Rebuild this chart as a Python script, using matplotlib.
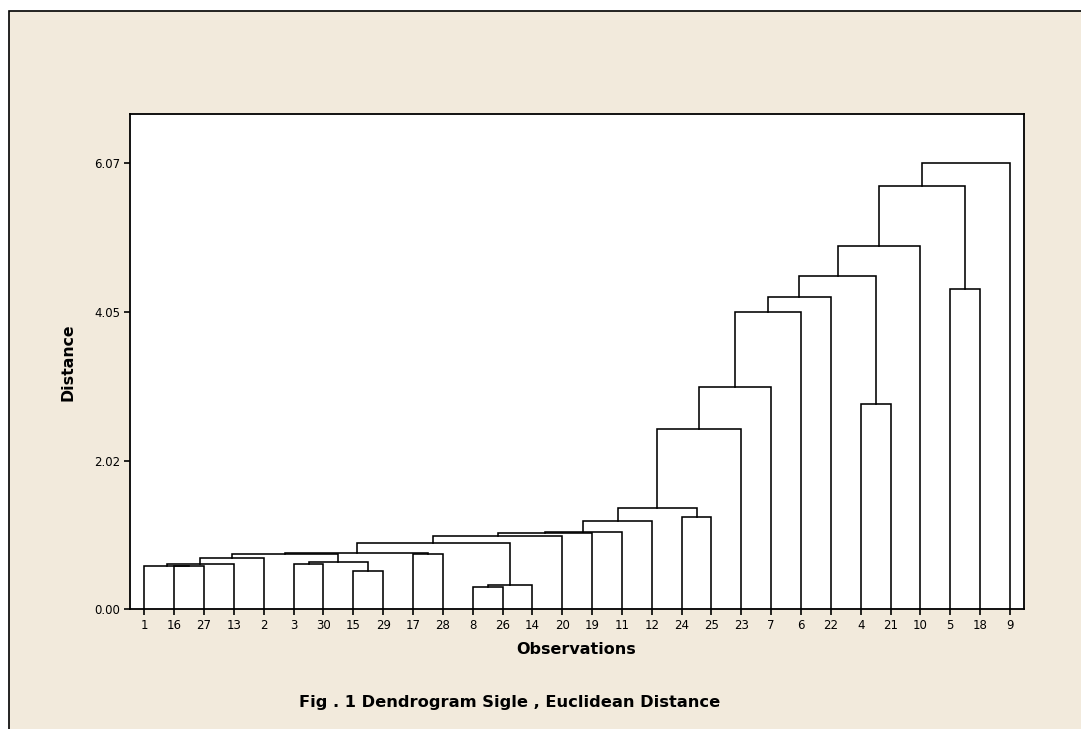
import matplotlib
matplotlib.use("Agg")
import matplotlib.pyplot as plt
from matplotlib.patches import Rectangle

# ---------------- data ----------------
leaf_order = [1, 16, 27, 13, 2, 3, 30, 15, 29, 17, 28, 8, 26, 14, 20,
              19, 11, 12, 24, 25, 23, 7, 6, 22, 4, 21, 10, 5, 18, 9]

# merges: children are observation numbers (int) or "cN" = result of merge N
merge_left = [16, 1, "c1", "c2", 3, 15, "c4", "c3", 17, "c7", 8, "c10", "c9",
              "c12", "c13", "c14", "c15", 24, "c16", "c18", "c19", "c20", "c21",
              4, "c22", "c24", 5, "c25", "c27"]
merge_right = [27, "c0", 13, 2, 30, 29, "c5", "c6", 28, "c8", 26, 14, "c11",
               20, 19, 11, 12, 25, "c17", 23, 7, 6, 22,
               21, "c23", 10, 18, "c26", 9]
merge_height = [0.584, 0.588, 0.612, 0.690, 0.612, 0.513, 0.640, 0.752, 0.745,
                0.767, 0.304, 0.327, 0.899, 0.994, 1.040, 1.044, 1.198, 1.253,
                1.380, 2.455, 3.027, 4.045, 4.253, 2.792, 4.539, 4.948, 4.354,
                5.765, 6.07]

y_ticks = [0.00, 2.02, 4.05, 6.07]
y_tick_labels = ["0.00", "2.02", "4.05", "6.07"]

x_label = "Observations"
y_label = "Distance"
caption = "Fig . 1 Dendrogram Sigle , Euclidean Distance"

# ---------------- figure ----------------
W, H = 1081, 729
fig = plt.figure(figsize=(W / 100, H / 100), dpi=100)
fig.patch.set_facecolor("white")
BG = "#F2EADC"

# beige panel with a black frame (cropped on right/bottom)
bx, by = 9.3 / W, 1 - 10.7 / H
frame = Rectangle((bx, -0.05), 1.2, by + 0.05, transform=fig.transFigure,
                  facecolor=BG, edgecolor="black", linewidth=1.2, zorder=-5)
fig.patches.append(frame)

ax = fig.add_axes([130 / W, (H - 609) / H, (1024 - 130) / W, (609 - 114) / H])
ax.set_zorder(2)
ax.set_facecolor("white")

pos = {leaf: i for i, leaf in enumerate(leaf_order)}
node_x = {}
node_h = {}

def get(child):
    if isinstance(child, str):
        return node_x[child], node_h[child]
    return pos[child], 0.0

for k, (l, r, h) in enumerate(zip(merge_left, merge_right, merge_height)):
    xl, hl = get(l)
    xr, hr = get(r)
    ax.plot([xl, xl, xr, xr], [hl, h, h, hr], color="black", lw=1.15,
            solid_joinstyle="miter", solid_capstyle="projecting", zorder=3)
    node_x["c%d" % k] = (xl + xr) / 2
    node_h["c%d" % k] = h

ax.set_xlim(-0.48, 29.47)
ax.set_ylim(0, (609 - 114) / 73.43)

ax.set_xticks(range(len(leaf_order)))
ax.set_xticklabels([str(v) for v in leaf_order], fontsize=8.5, family="DejaVu Sans")
ax.set_yticks(y_ticks)
ax.set_yticklabels(y_tick_labels, fontsize=8.5, family="DejaVu Sans")
ax.tick_params(direction="out", length=4, width=1.2, pad=3, color="black")
for s in ax.spines.values():
    s.set_linewidth(1.3)

fig.text(575.7 / W, 1 - 649 / H, x_label, ha="center", va="center",
         fontsize=11.5, fontweight="bold", family="DejaVu Sans")
fig.text(68.3 / W, 1 - 362.5 / H, y_label, ha="center", va="center", rotation=90,
         fontsize=11.3, fontweight="bold", family="DejaVu Sans")
fig.text(510 / W, 1 - 702 / H, caption, ha="center", va="center",
         fontsize=11.7, fontweight="bold", family="DejaVu Sans")

fig.savefig("out.png", dpi=100, facecolor=fig.get_facecolor())
